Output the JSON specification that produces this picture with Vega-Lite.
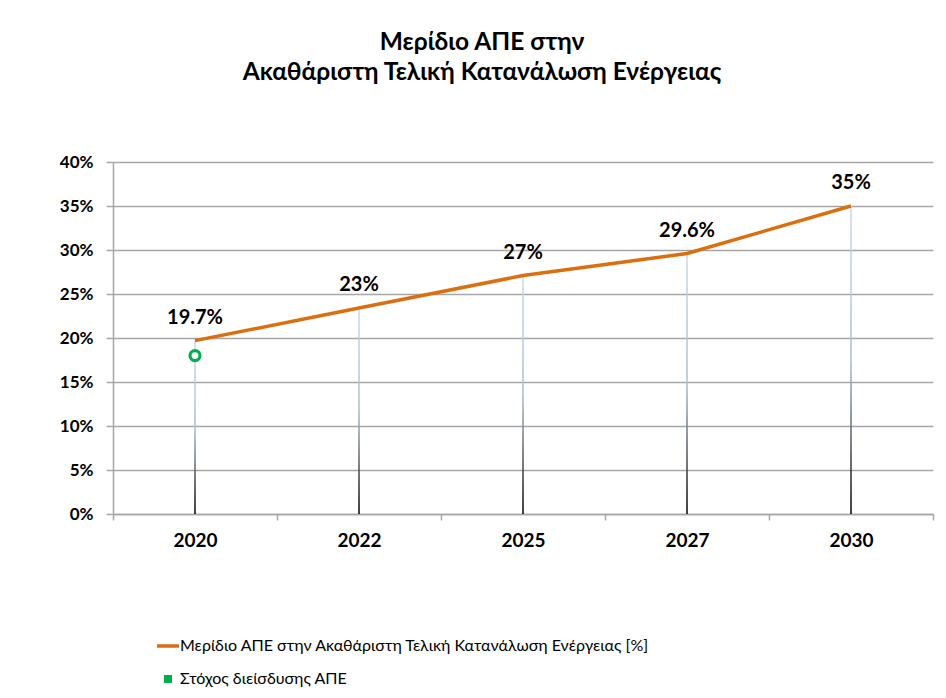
{
  "$schema": "https://vega.github.io/schema/vega-lite/v6.json",
  "autosize": "none",
  "width": 820,
  "height": 352,
  "padding": {"left": 113, "top": 162, "right": 13, "bottom": 184},
  "background": "white",
  "title": {
    "text": ["Μερίδιο ΑΠΕ στην", "Ακαθάριστη Τελική Κατανάλωση Ενέργειας"],
    "font": "Lato",
    "fontSize": 24.5,
    "fontWeight": "bold",
    "color": "#000000",
    "lineHeight": 30,
    "anchor": "middle",
    "frame": "group",
    "dx": -41,
    "offset": 68
  },
  "config": {
    "view": {"stroke": null},
    "font": "Lato"
  },
  "datasets": {
    "share": [
      {"year": "2020", "value": 0.197, "label": "19.7%", "series": "Μερίδιο ΑΠΕ στην Ακαθάριστη Τελική Κατανάλωση Ενέργειας [%]"},
      {"year": "2022", "value": 0.234, "label": "23%", "series": "Μερίδιο ΑΠΕ στην Ακαθάριστη Τελική Κατανάλωση Ενέργειας [%]"},
      {"year": "2025", "value": 0.271, "label": "27%", "series": "Μερίδιο ΑΠΕ στην Ακαθάριστη Τελική Κατανάλωση Ενέργειας [%]"},
      {"year": "2027", "value": 0.296, "label": "29.6%", "series": "Μερίδιο ΑΠΕ στην Ακαθάριστη Τελική Κατανάλωση Ενέργειας [%]"},
      {"year": "2030", "value": 0.35, "label": "35%", "series": "Μερίδιο ΑΠΕ στην Ακαθάριστη Τελική Κατανάλωση Ενέργειας [%]"}
    ],
    "target": [
      {"year": "2020", "value": 0.18, "series": "Στόχος διείσδυσης ΑΠΕ"}
    ]
  },
  "encoding": {
    "x": {
      "field": "year",
      "type": "ordinal",
      "sort": ["2020", "2022", "2025", "2027", "2030"],
      "scale": {"domain": ["2020", "2022", "2025", "2027", "2030"], "paddingInner": 0, "paddingOuter": 0},
      "axis": {
        "title": null,
        "labelAngle": 0,
        "labelFont": "Lato",
        "labelFontSize": 19,
        "labelFontWeight": "bold",
        "labelColor": "#000000",
        "labelPadding": 11,
        "domainColor": "#a6a6a6",
        "domainWidth": 1.5,
        "tickColor": "#a6a6a6",
        "tickWidth": 1.5,
        "tickSize": 6,
        "tickBand": "extent",
        "grid": false
      }
    },
    "y": {
      "field": "value",
      "type": "quantitative",
      "scale": {"domain": [0, 0.4], "nice": false},
      "axis": {
        "title": null,
        "values": [0, 0.05, 0.1, 0.15, 0.2, 0.25, 0.3, 0.35, 0.4],
        "format": ".0%",
        "labelFont": "Lato",
        "labelFontSize": 17,
        "labelFontWeight": "bold",
        "labelColor": "#000000",
        "labelPadding": 13,
        "tickSize": 7,
        "tickColor": "#a6a6a6",
        "tickWidth": 1.5,
        "domainColor": "#a6a6a6",
        "domainWidth": 1.5,
        "grid": true,
        "gridColor": "#a6a6a6",
        "gridWidth": 1.5
      }
    }
  },
  "layer": [
    {
      "data": {"name": "share"},
      "mark": {
        "type": "bar",
        "width": 1.5,
        "fill": {
          "gradient": "linear",
          "x1": 0, "y1": 0, "x2": 0, "y2": 1,
          "stops": [
            {"offset": 0, "color": "#c6d9f1"},
            {"offset": 0.5, "color": "#aebccc"},
            {"offset": 1, "color": "#000000"}
          ]
        }
      },
      "encoding": {}
    },
    {
      "data": {"name": "share"},
      "mark": {"type": "line", "strokeWidth": 3.5},
      "encoding": {
        "color": {
          "field": "series",
          "type": "nominal",
          "scale": {
            "domain": ["Μερίδιο ΑΠΕ στην Ακαθάριστη Τελική Κατανάλωση Ενέργειας [%]", "Στόχος διείσδυσης ΑΠΕ"],
            "range": ["#db6f10", "#00b050"]
          },
          "legend": {
            "title": null,
            "orient": "none",
            "legendX": 47,
            "legendY": 476,
            "direction": "vertical",
            "rowPadding": 17,
            "labelFont": "Lato",
            "labelFontSize": 16,
            "labelFontWeight": "normal",
            "labelColor": "#000000",
            "labelLimit": 800,
            "labelOffset": 4,
            "symbolSize": 484,
            "symbolStrokeWidth": 3.5,
            "encode": {
              "symbols": {
                "update": {
                  "shape": {"signal": "datum.index === 0 ? 'stroke' : 'square'"},
                  "size": {"signal": "datum.index === 0 ? 484 : 64"},
                  "fill": {"signal": "datum.index === 0 ? 'transparent' : '#00b050'"},
                  "stroke": {"signal": "datum.index === 0 ? '#db6f10' : '#00b050'"},
                  "strokeWidth": {"signal": "datum.index === 0 ? 3.5 : 0"}
                }
              }
            }
          }
        }
      }
    },
    {
      "data": {"name": "share"},
      "mark": {"type": "text", "dy": -23, "font": "Lato", "fontSize": 20, "fontWeight": "bold", "color": "#000000"},
      "encoding": {
        "text": {"field": "label"}
      }
    },
    {
      "data": {"name": "target"},
      "mark": {"type": "point", "filled": false, "fill": "white", "strokeWidth": 3.2, "size": 100, "opacity": 1},
      "encoding": {
        "color": {"field": "series", "type": "nominal"}
      }
    }
  ]
}
